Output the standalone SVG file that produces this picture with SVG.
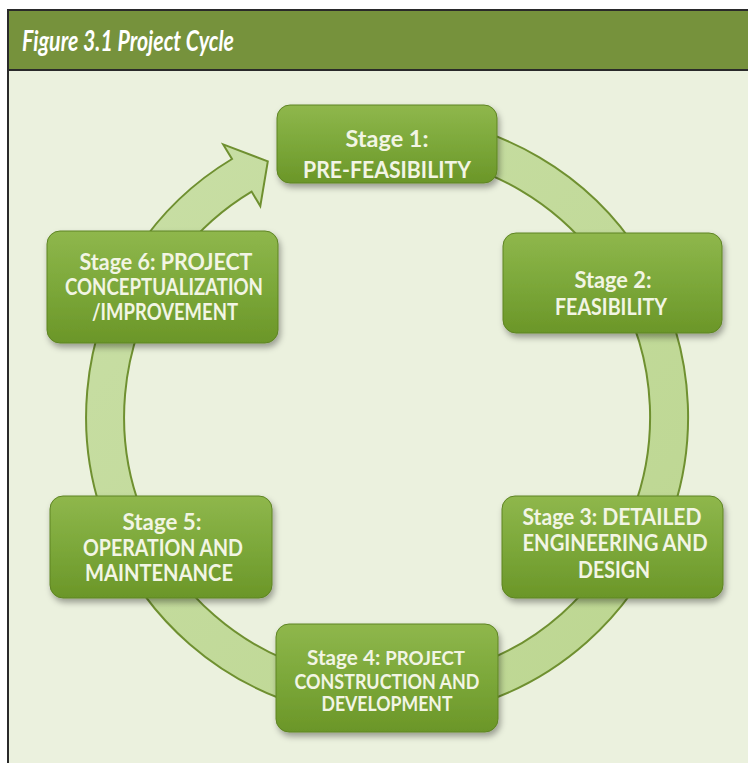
<svg xmlns="http://www.w3.org/2000/svg" width="748" height="763" viewBox="0 0 748 763">
  <defs>
    <linearGradient id="boxGrad" x1="0" y1="0" x2="0" y2="1">
      <stop offset="0" stop-color="#8fb74c"/>
      <stop offset="0.5" stop-color="#7ca83a"/>
      <stop offset="1" stop-color="#6b9628"/>
    </linearGradient>
    <linearGradient id="bandGrad" x1="0" y1="0" x2="1" y2="1">
      <stop offset="0" stop-color="#c9dfa6"/>
      <stop offset="1" stop-color="#bcd690"/>
    </linearGradient>
    <filter id="shadow" x="-10%" y="-10%" width="125%" height="135%">
      <feDropShadow dx="2" dy="4" stdDeviation="3" flood-color="#000" flood-opacity="0.35"/>
    </filter>
  </defs>
  <style>
    .box { fill: url(#boxGrad); stroke: #5e8423; stroke-width: 1; filter: url(#shadow); }
    .lbl { font-family: Lato, "Open Sans", "Liberation Sans", sans-serif; font-weight: bold; font-size: 22px; fill: #f2f5e4; text-anchor: middle; }
    .sm { font-size: 20px; }
    .xs { font-size: 18px; }
    .band { fill: url(#bandGrad); stroke: #6f9030; stroke-width: 2; stroke-linejoin: miter; }
  </style>

  <rect x="0" y="0" width="748" height="763" fill="#ffffff"/>
  <rect x="8" y="10" width="750" height="760" fill="#ebf1de" stroke="#2a2a2a" stroke-width="2"/>
  <g id="title">
    <rect x="8" y="10" width="750" height="60" fill="#76923c" stroke="#2a2a2a" stroke-width="2"/>
    <text x="22" y="51" font-family="Lato, 'Open Sans', 'Liberation Sans', sans-serif" font-weight="bold" font-style="italic" font-size="29" fill="#ffffff" textLength="212" lengthAdjust="spacingAndGlyphs">Figure 3.1 Project Cycle</text>
  </g>

  <g id="connectors">
    <path class="band" d="M413.2,117.1 A301,301 0 1 1 232.0,159.0 L223.2,144.4 L267.8,161.4 L260.3,206.1 L251.6,191.6 A263,263 0 1 0 409.9,155.0 Z"/>
  </g>

  <g id="stage1">
    <rect class="box" x="277" y="105" width="220" height="78" rx="13"/>
    <text class="lbl" x="387" y="147" textLength="83" lengthAdjust="spacingAndGlyphs">Stage 1:</text>
    <text class="lbl" x="387" y="178" textLength="168" lengthAdjust="spacingAndGlyphs">PRE-FEASIBILITY</text>
  </g>
  <g id="stage2">
    <rect class="box" x="503" y="233" width="219" height="100" rx="13"/>
    <text class="lbl" x="613" y="288" textLength="77" lengthAdjust="spacingAndGlyphs">Stage 2:</text>
    <text class="lbl" x="611" y="315" textLength="112" lengthAdjust="spacingAndGlyphs">FEASIBILITY</text>
  </g>
  <g id="stage3">
    <rect class="box" x="502" y="496" width="221" height="102" rx="13"/>
    <text class="lbl" x="612" y="525" textLength="179" lengthAdjust="spacingAndGlyphs">Stage 3: DETAILED</text>
    <text class="lbl" x="615" y="551" textLength="185" lengthAdjust="spacingAndGlyphs">ENGINEERING AND</text>
    <text class="lbl" x="614" y="578" textLength="72" lengthAdjust="spacingAndGlyphs">DESIGN</text>
  </g>
  <g id="stage4">
    <rect class="box" x="276" y="624" width="222" height="108" rx="13"/>
    <text class="lbl sm" x="386" y="665" textLength="158" lengthAdjust="spacingAndGlyphs"><tspan>Stage 4: </tspan><tspan class="xs">PROJECT</tspan></text>
    <text class="lbl sm" x="387" y="689" textLength="185" lengthAdjust="spacingAndGlyphs">CONSTRUCTION AND</text>
    <text class="lbl sm" x="387" y="711" textLength="131" lengthAdjust="spacingAndGlyphs">DEVELOPMENT</text>
  </g>
  <g id="stage5">
    <rect class="box" x="50" y="496" width="222" height="102" rx="13"/>
    <text class="lbl" x="162" y="530" textLength="79" lengthAdjust="spacingAndGlyphs">Stage 5:</text>
    <text class="lbl" x="163" y="556" textLength="160" lengthAdjust="spacingAndGlyphs">OPERATION AND</text>
    <text class="lbl" x="159" y="581" textLength="148" lengthAdjust="spacingAndGlyphs">MAINTENANCE</text>
  </g>
  <g id="stage6">
    <rect class="box" x="47" y="231" width="231" height="112" rx="13"/>
    <text class="lbl" x="166" y="270" textLength="173" lengthAdjust="spacingAndGlyphs">Stage 6: PROJECT</text>
    <text class="lbl" x="164" y="295" textLength="198" lengthAdjust="spacingAndGlyphs">CONCEPTUALIZATION</text>
    <text class="lbl" x="165" y="320" textLength="146" lengthAdjust="spacingAndGlyphs">/IMPROVEMENT</text>
  </g>
</svg>
